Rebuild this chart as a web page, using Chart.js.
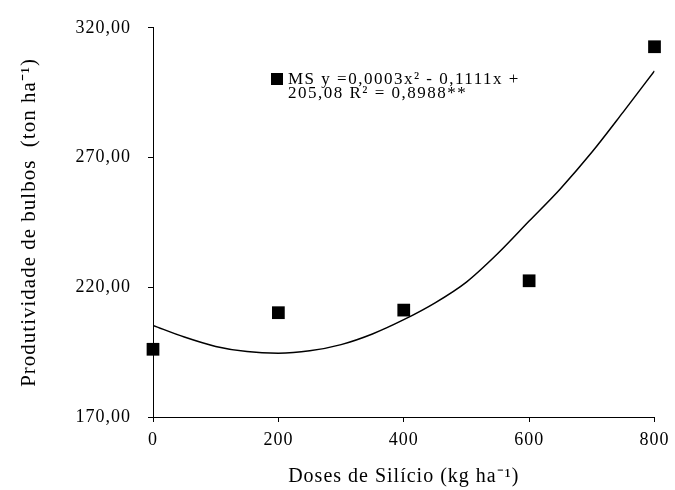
<!DOCTYPE html>
<html>
<head>
<meta charset="utf-8">
<script src="https://cdn.jsdelivr.net/npm/chart.js@4"></script>
<style>
  html, body { margin: 0; padding: 0; background: #fff; }
  #wrap { width: 675px; height: 490px; }
</style>
</head>
<body>
<div id="wrap"><canvas id="myChart" width="675" height="490"></canvas></div>
<script>
// Observed points (dose of Si vs bulb yield)
const doses = [0, 200, 400, 600, 800];
const produtividade = [196.1, 210.2, 211.2, 222.5, 312.7];

// Trend line
const curvaX = [0, 50, 100, 150, 200, 250, 300, 350, 400, 450, 500, 550, 600, 650, 700, 750, 800];
const curvaY = [205.3, 200.8, 197.2, 195.2, 194.6, 195.5, 197.9, 202.0, 207.5, 214.0, 222.0, 233.0, 245.5, 258.0, 272.0, 287.5, 303.4];

// Axis ticks
const xTickValues = [0, 200, 400, 600, 800];
const xTickLabels = ['0', '200', '400', '600', '800'];
const yTickValues = [170, 220, 270, 320];
const yTickLabels = ['170,00', '220,00', '270,00', '320,00'];

const equationLines = ['MS y =0,0003x² - 0,1111x +', '205,08 R² = 0,8988**'];

const serif = "'Liberation Serif', 'Times New Roman', serif";

// letter spacing to get the wide look of the original text
const spacingPlugin = {
    id: 'spacing',
    beforeDraw(chart) {
        chart.ctx.letterSpacing = '1px';
    }
};

// the equation box with its square marker
const equationPlugin = {
    id: 'equation',
    afterDraw(chart) {
        const ctx = chart.ctx;
        ctx.save();
        ctx.fillStyle = '#000';
        ctx.fillRect(271, 73, 12, 12);
        ctx.font = '17px ' + serif;
        ctx.letterSpacing = '1.5px';
        ctx.textAlign = 'left';
        ctx.textBaseline = 'alphabetic';
        ctx.fillText(equationLines[0], 288, 84);
        ctx.fillText(equationLines[1], 288, 98);
        ctx.restore();
    }
};

const ctx = document.getElementById('myChart');

new Chart(ctx, {
    type: 'scatter',
    data: {
        datasets: [
            {
                label: 'MS',
                data: doses.map((d, i) => ({ x: d, y: produtividade[i] })),
                pointStyle: 'rect',
                pointRadius: 9,
                pointHoverRadius: 9,
                backgroundColor: '#000',
                borderWidth: 0,
                showLine: false,
                clip: false
            },
            {
                label: 'Polinomial',
                data: curvaX.map((d, i) => ({ x: d, y: curvaY[i] })),
                showLine: true,
                borderColor: '#000',
                borderWidth: 1.5,
                pointRadius: 0,
                cubicInterpolationMode: 'monotone',
                fill: false
            }
        ]
    },
    options: {
        responsive: false,
        animation: false,
        layout: { padding: { left: 0, right: 17, top: 23, bottom: 0 } },
        plugins: {
            legend: { display: false },
            tooltip: { enabled: false }
        },
        scales: {
            x: {
                type: 'linear',
                min: 0,
                max: 800,
                afterFit: s => { s.height = 73; },
                afterBuildTicks: s => { s.ticks = xTickValues.map(v => ({ value: v })); },
                grid: { drawOnChartArea: false, drawTicks: true, tickLength: 5, color: '#000' },
                border: { display: true, color: '#000', width: 1 },
                ticks: {
                    color: '#000',
                    padding: 7,
                    maxRotation: 0,
                    font: { family: serif, size: 18 },
                    callback: (v, i) => xTickLabels[i]
                },
                title: {
                    display: true,
                    text: 'Doses de Silício (kg ha⁻¹)',
                    color: '#000',
                    font: { family: serif, size: 20 },
                    padding: { top: 1, bottom: 1 }
                }
            },
            y: {
                type: 'linear',
                min: 170,
                max: 320,
                afterFit: s => { s.width = 153; },
                afterBuildTicks: s => { s.ticks = yTickValues.map(v => ({ value: v })); },
                grid: { drawOnChartArea: false, drawTicks: true, tickLength: 5, color: '#000' },
                border: { display: true, color: '#000', width: 1 },
                ticks: {
                    color: '#000',
                    padding: 17,
                    font: { family: serif, size: 18 },
                    callback: (v, i) => yTickLabels[i]
                },
                title: {
                    display: true,
                    text: 'Produtividade de bulbos  (ton ha⁻¹)',
                    color: '#000',
                    font: { family: serif, size: 21 },
                    padding: { top: 17, bottom: 0 }
                }
            }
        }
    },
    plugins: [spacingPlugin, equationPlugin]
});
</script>
</body>
</html>
